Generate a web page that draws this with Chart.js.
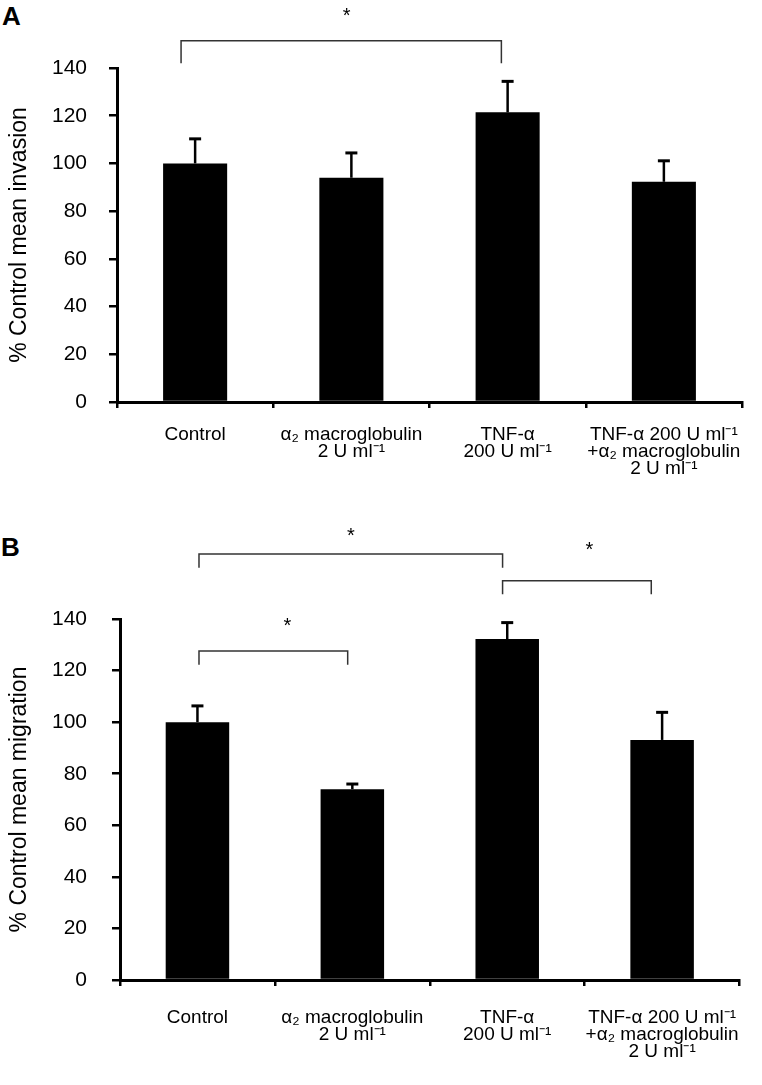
<!DOCTYPE html>
<html>
<head>
<meta charset="utf-8">
<script src="https://cdn.jsdelivr.net/npm/chart.js@4.4.1/dist/chart.umd.min.js"></script>
<style>
  body { margin: 0; background: #fff; width: 762px; height: 1085px; position: relative; overflow: hidden; }
  .panel { position: absolute; left: 0; width: 762px; }
  .letter { position: absolute; font: bold 26px "Liberation Sans", Arial, sans-serif; line-height: 26px; color: #000; }
</style>
</head>
<body>
<div class="letter" style="left:2px;top:3px">A</div>
<div class="letter" style="left:1px;top:534px">B</div>
<div class="panel" style="top:0;height:520px"><canvas id="chartA" width="762" height="520"></canvas></div>
<div class="panel" style="top:520px;height:565px"><canvas id="chartB" width="762" height="565"></canvas></div>
<script>
// groups on the x axis
const categories = [
  'Control',
  ['α₂ macroglobulin', '2 U ml⁻¹'],
  ['TNF-α', '200 U ml⁻¹'],
  ['TNF-α 200 U ml⁻¹', '+α₂ macroglobulin', '2 U ml⁻¹']
];
const yMin = 0;
const yMax = 140;
const yStep = 20;

// panel A - invasion
const invasionMeans = [100, 94, 121.4, 92.3];
const invasionErrors = [10.3, 10.4, 13, 8.8];
// significance brackets: ends / star as category positions, heights in axis units
const invasionSig = [
  { from: -0.09, to: 1.96, starAt: 0.97, level: 151.4, drop: 9.4, star: 164 }
];

// panel B - migration
const migrationMeans = [100, 74, 132.2, 93.1];
const migrationErrors = [6.3, 2, 6.4, 10.7];
const migrationSig = [
  { from: 0.01, to: 1.97, starAt: 0.99, level: 165.2, drop: 5.3, star: 174 },
  { from: 0.01, to: 0.97, starAt: 0.58, level: 127.6, drop: 5.3, star: 139.3 },
  { from: 1.97, to: 2.93, starAt: 2.53, level: 154.8, drop: 5.2, star: 168.6 }
];

const FONT = '"Liberation Sans", Arial, sans-serif';

// upper error whiskers
function errorBarPlugin(means, errors) {
  return {
    id: 'errorBars',
    afterDatasetsDraw(chart) {
      let ctx = chart.ctx;
      let y = chart.scales.y;
      let bars = chart.getDatasetMeta(0).data;
      ctx.save();
      ctx.strokeStyle = '#000';
      bars.forEach((bar, i) => {
        let top = y.getPixelForValue(means[i] + errors[i]);
        ctx.lineWidth = 2.5;
        ctx.beginPath();
        ctx.moveTo(bar.x, bar.y);
        ctx.lineTo(bar.x, top);
        ctx.stroke();
        ctx.lineWidth = 3;
        ctx.beginPath();
        ctx.moveTo(bar.x - 6, top);
        ctx.lineTo(bar.x + 6, top);
        ctx.stroke();
      });
      ctx.restore();
    }
  };
}

// brackets with asterisks
function bracketPlugin(brackets) {
  return {
    id: 'brackets',
    afterDraw(chart) {
      let ctx = chart.ctx;
      let x = chart.scales.x;
      let y = chart.scales.y;
      ctx.save();
      ctx.strokeStyle = '#333';
      ctx.lineWidth = 1.5;
      ctx.fillStyle = '#000';
      ctx.font = '20px ' + FONT;
      ctx.textAlign = 'center';
      ctx.textBaseline = 'alphabetic';
      brackets.forEach(b => {
        let x1 = x.getPixelForValue(b.from);
        let x2 = x.getPixelForValue(b.to);
        let yl = y.getPixelForValue(b.level);
        let yd = y.getPixelForValue(b.level - b.drop);
        ctx.beginPath();
        ctx.moveTo(x1, yd);
        ctx.lineTo(x1, yl);
        ctx.lineTo(x2, yl);
        ctx.lineTo(x2, yd);
        ctx.stroke();
        ctx.fillText('*', x.getPixelForValue(b.starAt), y.getPixelForValue(b.star) + 11);
      });
      ctx.restore();
    }
  };
}

function makeChart(id, opts) {
  let ctx = document.getElementById(id).getContext('2d');
  return new Chart(ctx, {
    type: 'bar',
    data: {
      labels: categories,
      datasets: [{
        data: opts.means,
        backgroundColor: '#000',
        borderWidth: 0,
        barPercentage: 0.41,
        categoryPercentage: 1
      }]
    },
    options: {
      responsive: false,
      animation: false,
      layout: { padding: { top: opts.top, right: opts.right, left: 0, bottom: 0 } },
      plugins: {
        legend: { display: false },
        tooltip: { enabled: false }
      },
      scales: {
        x: {
          afterFit: s => { s.height = opts.xHeight; },
          border: { display: true, color: '#000', width: 3 },
          grid: {
            offset: true,
            drawOnChartArea: false,
            drawTicks: true,
            tickLength: 6,
            lineWidth: 2.5,
            color: '#000'
          },
          ticks: {
            color: '#000',
            font: { family: FONT, size: 19, lineHeight: 0.9 },
            padding: opts.xPad,
            maxRotation: 0,
            minRotation: 0,
            autoSkip: false
          }
        },
        y: {
          min: yMin,
          max: yMax,
          afterFit: s => { s.width = opts.yWidth; },
          border: { display: true, color: '#000', width: 3 },
          grid: {
            drawOnChartArea: false,
            drawTicks: true,
            tickLength: 8,
            lineWidth: 2.5,
            color: '#000'
          },
          ticks: {
            stepSize: yStep,
            color: '#000',
            font: { family: FONT, size: 21 },
            padding: opts.yPad
          },
          title: {
            display: true,
            text: opts.title,
            color: '#000',
            font: { family: FONT, size: 23 },
            padding: { top: 6, bottom: 4 }
          }
        }
      }
    },
    plugins: [errorBarPlugin(opts.means, opts.errors), bracketPlugin(opts.sig)]
  });
}

makeChart('chartA', {
  means: invasionMeans,
  errors: invasionErrors,
  sig: invasionSig,
  title: '% Control mean invasion',
  top: 68, right: 20, xHeight: 118, yWidth: 117, xPad: 18, yPad: 22
});

makeChart('chartB', {
  means: migrationMeans,
  errors: migrationErrors,
  sig: migrationSig,
  title: '% Control mean migration',
  top: 99, right: 3, xHeight: 105, yWidth: 120, xPad: 23, yPad: 25
});
</script>
</body>
</html>
